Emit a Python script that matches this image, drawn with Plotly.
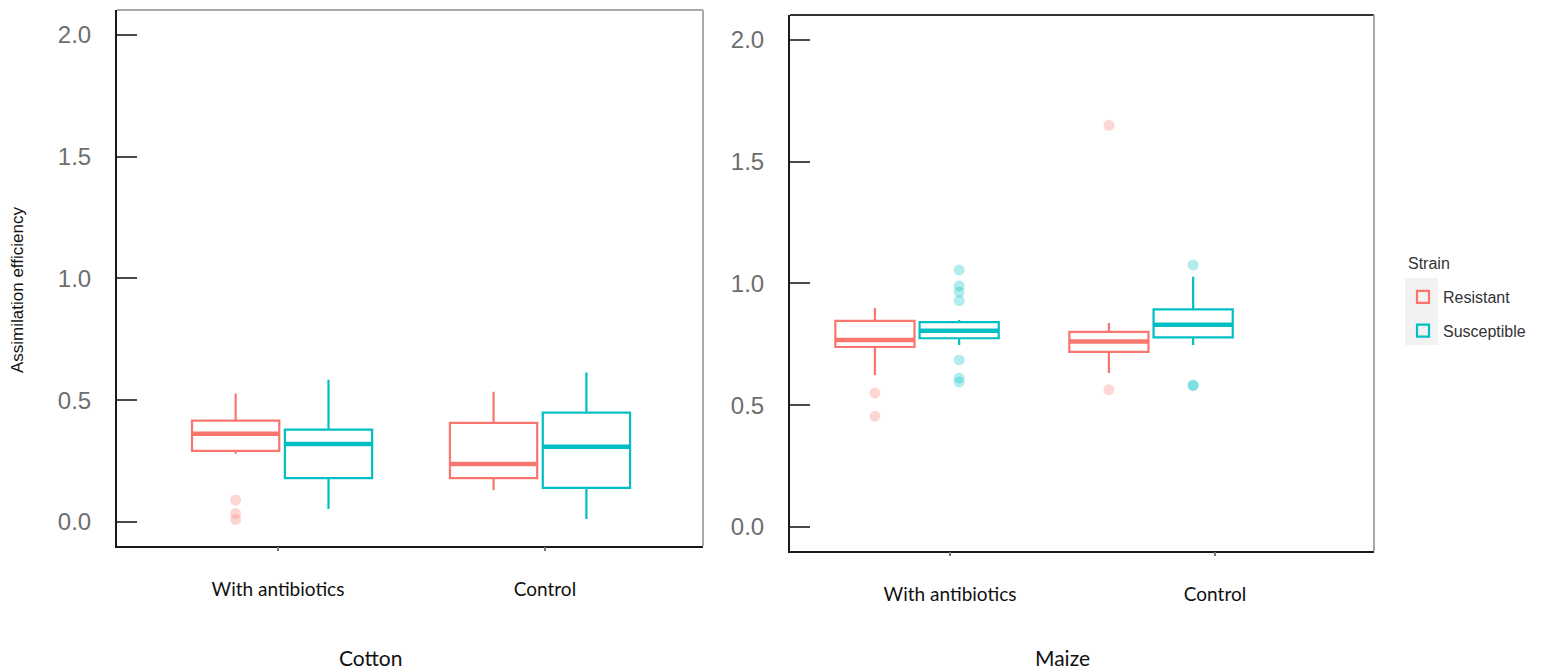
import plotly.graph_objects as go

categories = ["With antibiotics", "Control"]
strains = ["Resistant", "Susceptible"]
panels = ["Cotton", "Maize"]
legend_title = "Strain"
strain_colors = ["#F8766D", "#00BFC4"]
outlier_colors = ["rgba(248,118,109,0.30)", "rgba(0,191,196,0.30)"]

# ---- Cotton ----
cotton_resistant_lower = [0.28, 0.13]
cotton_resistant_q1 = [0.292, 0.18]
cotton_resistant_median = [0.362, 0.238]
cotton_resistant_q3 = [0.416, 0.407]
cotton_resistant_upper = [0.527, 0.535]
cotton_resistant_outliers = [[0.09, 0.035, 0.01], []]

cotton_susceptible_lower = [0.053, 0.012]
cotton_susceptible_q1 = [0.18, 0.14]
cotton_susceptible_median = [0.32, 0.309]
cotton_susceptible_q3 = [0.379, 0.449]
cotton_susceptible_upper = [0.584, 0.614]
cotton_susceptible_outliers = [[], []]

# ---- Maize ----
maize_resistant_lower = [0.624, 0.632]
maize_resistant_q1 = [0.739, 0.719]
maize_resistant_median = [0.768, 0.762]
maize_resistant_q3 = [0.846, 0.801]
maize_resistant_upper = [0.899, 0.838]
maize_resistant_outliers = [[0.55, 0.455], [1.65, 0.563]]

maize_susceptible_lower = [0.747, 0.747]
maize_susceptible_q1 = [0.775, 0.779]
maize_susceptible_median = [0.806, 0.83]
maize_susceptible_q3 = [0.841, 0.894]
maize_susceptible_upper = [0.85, 1.028]
maize_susceptible_outliers = [[1.055, 0.99, 0.965, 0.93, 0.686, 0.612, 0.595],
                              [1.076, 0.583, 0.58]]

y_ticks = [0.0, 0.5, 1.0, 1.5, 2.0]

data = {
    "Cotton": [
        (cotton_resistant_lower, cotton_resistant_q1, cotton_resistant_median,
         cotton_resistant_q3, cotton_resistant_upper, cotton_resistant_outliers),
        (cotton_susceptible_lower, cotton_susceptible_q1, cotton_susceptible_median,
         cotton_susceptible_q3, cotton_susceptible_upper, cotton_susceptible_outliers),
    ],
    "Maize": [
        (maize_resistant_lower, maize_resistant_q1, maize_resistant_median,
         maize_resistant_q3, maize_resistant_upper, maize_resistant_outliers),
        (maize_susceptible_lower, maize_susceptible_q1, maize_susceptible_median,
         maize_susceptible_q3, maize_susceptible_upper, maize_susceptible_outliers),
    ],
}

fig = go.Figure()
axis_ids = [("x", "y"), ("x2", "y2")]
for p, panel in enumerate(panels):
    xa, ya = axis_ids[p]
    for s, strain in enumerate(strains):
        lo, q1, med, q3, up, outl = data[panel][s]
        has_pts = any(len(o) > 0 for o in outl)
        fig.add_trace(go.Box(
            x=categories, y=outl if has_pts else None,
            lowerfence=lo, q1=q1, median=med, q3=q3, upperfence=up,
            name=strain, legendgroup=strain, showlegend=(p == 0),
            offsetgroup=strain,
            boxpoints="outliers" if has_pts else False,
            line=dict(color=strain_colors[s], width=2.2),
            fillcolor="rgba(255,255,255,0)",
            marker=dict(color=outlier_colors[s], size=11,
                        line=dict(width=0)),
            whiskerwidth=0,
            xaxis=xa, yaxis=ya,
        ))
    # thicker median bars (ggplot style), drawn from the median arrays
    for s, strain in enumerate(strains):
        lo, q1, med, q3, up, outl = data[panel][s]
        fig.add_trace(go.Box(
            x=categories,
            lowerfence=med, q1=med, median=med, q3=med, upperfence=med,
            name=strain, legendgroup=strain, showlegend=False,
            offsetgroup=strain, boxpoints=False,
            line=dict(color=strain_colors[s], width=4.5),
            fillcolor="rgba(255,255,255,0)",
            whiskerwidth=0, hoverinfo="skip",
            xaxis=xa, yaxis=ya,
        ))

OFF = 8  # browser default body margin
PW, PH = 1544 - OFF, 672 - OFF
def fx(px):
    return (px - OFF) / PW
def fy(py):
    return 1 - (py - OFF) / PH

ytick_font = dict(family="Liberation Sans, Arial", size=24, color="#6e6e6e")
xlab_font = dict(family="Lato, Carlito, sans-serif", size=19, color="#111111")

common_y = dict(
    range=[-0.099, 2.103], tickvals=y_ticks, tickformat=".1f",
    ticks="inside", ticklen=20, tickwidth=2, tickcolor="#4a4a4a",
    showline=True, linecolor="#1a1a1a", linewidth=2,
    showgrid=False, zeroline=False, tickfont=ytick_font,
    ticklabelstandoff=19,
)
common_xbox = dict(
    type="category", categoryorder="array", categoryarray=categories,
    showticklabels=False, ticks="", showline=True, linecolor="#1a1a1a",
    linewidth=2, showgrid=False, zeroline=False,
)
common_xlab = dict(
    tickmode="array", tickvals=[0, 1], ticktext=categories,
    ticks="outside", ticklen=4, tickwidth=1.5, tickcolor="#777777",
    showline=False, showgrid=False, zeroline=False, tickfont=xlab_font,
    ticklabelstandoff=22,
)

fig.update_layout(
    width=PW, height=PH,
    margin=dict(l=0, r=0, t=0, b=0, autoexpand=False),
    paper_bgcolor="white", plot_bgcolor="white",
    boxmode="group", boxgap=0.28, boxgroupgap=0.06,
    xaxis=dict(domain=[fx(117), fx(703)], anchor="y",
               range=[-0.640, 1.632], **common_xbox),
    yaxis=dict(domain=[fy(546), fy(10)], anchor="x", **common_y),
    xaxis2=dict(domain=[fx(790), fx(1374)], anchor="y2",
                range=[-0.543, 1.953], **common_xbox),
    yaxis2=dict(domain=[fy(551), fy(15)], anchor="x2", **common_y),
    xaxis3=dict(overlaying="x", anchor="y", range=[-0.603, 1.592], **common_xlab),
    xaxis4=dict(overlaying="x2", anchor="y2", range=[-0.604, 1.600], **common_xlab),
    legend=dict(x=fx(1403), y=fy(280), xanchor="left", yanchor="top",
                font=dict(family="Liberation Sans, Arial", size=16, color="#333333"),
                bgcolor="rgba(0,0,0,0)", traceorder="grouped", tracegroupgap=10),
    font=dict(family="Liberation Sans, Arial"),
)

# dummy traces so label axes render
for xa, ya in [("x3", "y"), ("x4", "y2")]:
    fig.add_trace(go.Scatter(x=[None], y=[None], xaxis=xa, yaxis=ya,
                             showlegend=False, hoverinfo="skip"))

shapes = []
for xr, yr, topc in [("x domain", "y domain", "#a8a8a8"), ("x2 domain", "y2 domain", "#333333")]:
    shapes.append(dict(type="line", xref=xr, yref=yr, x0=0, x1=1, y0=1, y1=1,
                       line=dict(color=topc, width=2)))
    shapes.append(dict(type="line", xref=xr, yref=yr, x0=1, x1=1, y0=0, y1=1,
                       line=dict(color="#a8a8a8", width=2)))
# light grey legend key background
shapes.append(dict(type="rect", xref="paper", yref="paper",
                   x0=fx(1405), x1=fx(1438), y0=fy(345), y1=fy(278),
                   fillcolor="#F2F2F2", line=dict(width=0), layer="below"))
fig.update_layout(shapes=shapes)

fig.add_annotation(text=legend_title, x=fx(1406), y=fy(263), xref="paper", yref="paper",
                   showarrow=False, xanchor="left", yanchor="middle",
                   font=dict(family="Liberation Sans, Arial", size=16, color="#333333"))
fig.add_annotation(text="Assimilation efficiency", x=fx(18), y=fy(290),
                   xref="paper", yref="paper", textangle=-90, showarrow=False,
                   xanchor="center", yanchor="middle",
                   font=dict(family="Liberation Sans, Arial", size=17, color="#111111"))
panel_x = [370, 1062]
for p, panel in enumerate(panels):
    fig.add_annotation(text=panel, x=fx(panel_x[p]), y=fy(657), xref="paper", yref="paper",
                       showarrow=False, xanchor="center", yanchor="middle",
                       font=dict(family="Lato, Carlito, sans-serif", size=21, color="#111111"))

fig.write_html("out.html")
